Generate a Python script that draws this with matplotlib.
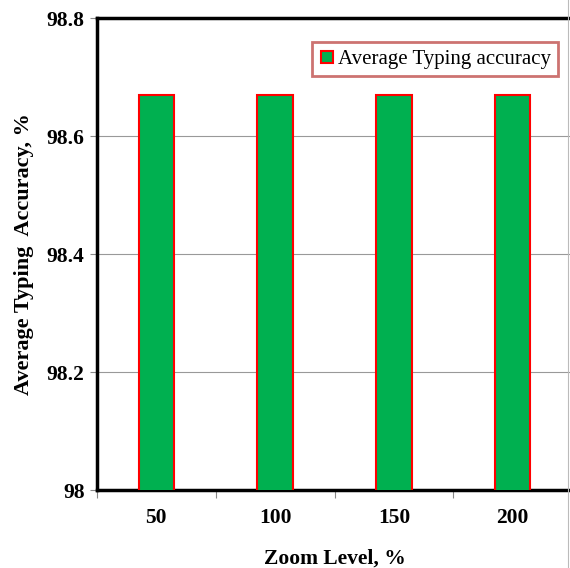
import numpy as np
import matplotlib.pyplot as plt
from matplotlib.lines import Line2D

# data
zoom_levels = ["50", "100", "150", "200"]
accuracy = [98.67, 98.67, 98.67, 98.67]
y_ticks = [98.0, 98.2, 98.4, 98.6, 98.8]
y_tick_labels = ["98", "98.2", "98.4", "98.6", "98.8"]

plt.rcParams['font.family'] = ['Liberation Serif', 'DejaVu Serif']

fig = plt.figure(figsize=(5.7, 5.68), dpi=100)
ax = fig.add_axes([97/570, 78/568, 475/570, 472/568])

x = np.arange(len(zoom_levels))
ax.bar(x, accuracy, width=0.3, color="#00B050", edgecolor="#FF0000",
       linewidth=1.5, zorder=3, label="Average Typing accuracy")

ax.set_xlim(-0.5, len(zoom_levels) - 0.5)
ax.set_ylim(98.0, 98.8)
ax.set_yticks(y_ticks)
ax.set_yticklabels(y_tick_labels, fontsize=15.5, fontweight="bold")
ax.set_xticks(x)
ax.set_xticklabels(zoom_levels, fontsize=15.5, fontweight="bold")
ax.tick_params(axis="x", length=0, pad=13)
ax.tick_params(axis="y", length=5, color="#888888", width=0.8, pad=4)
# ticks between categories
ax.set_xticks(np.arange(-0.5, len(zoom_levels), 1.0), minor=True)
ax.tick_params(axis="x", which="minor", length=6, color="#888888", width=0.8)

ax.grid(axis="y", color="#999999", linewidth=0.8, zorder=0)
for side in ["left", "top", "bottom"]:
    ax.spines[side].set_linewidth(2.5)
    ax.spines[side].set_color("black")
ax.spines["right"].set_visible(False)

ax.set_xlabel("Zoom Level, %", fontsize=15.5, fontweight="bold", labelpad=15)
ax.set_ylabel("Average Typing  Accuracy, %", fontsize=16, fontweight="bold", labelpad=9)

handle = Line2D([], [], marker="s", linestyle="none", markersize=9,
                markerfacecolor="#00B050", markeredgecolor="#FF0000", markeredgewidth=1.5)
leg = ax.legend([handle], ["Average Typing accuracy"], loc="upper right",
                bbox_to_anchor=(0.9705, 0.949), fontsize=15, frameon=True, fancybox=False,
                handletextpad=0.1, handlelength=0.8, borderpad=0.35, borderaxespad=0)
leg.get_frame().set_edgecolor("#C0504D")
leg.get_frame().set_linewidth(2)

# thin outer border line at the right edge
fig.add_artist(Line2D([568/570, 568/570], [0, 1], color="#BBBBBB", linewidth=0.8))

fig.savefig("out.png", dpi=100)
